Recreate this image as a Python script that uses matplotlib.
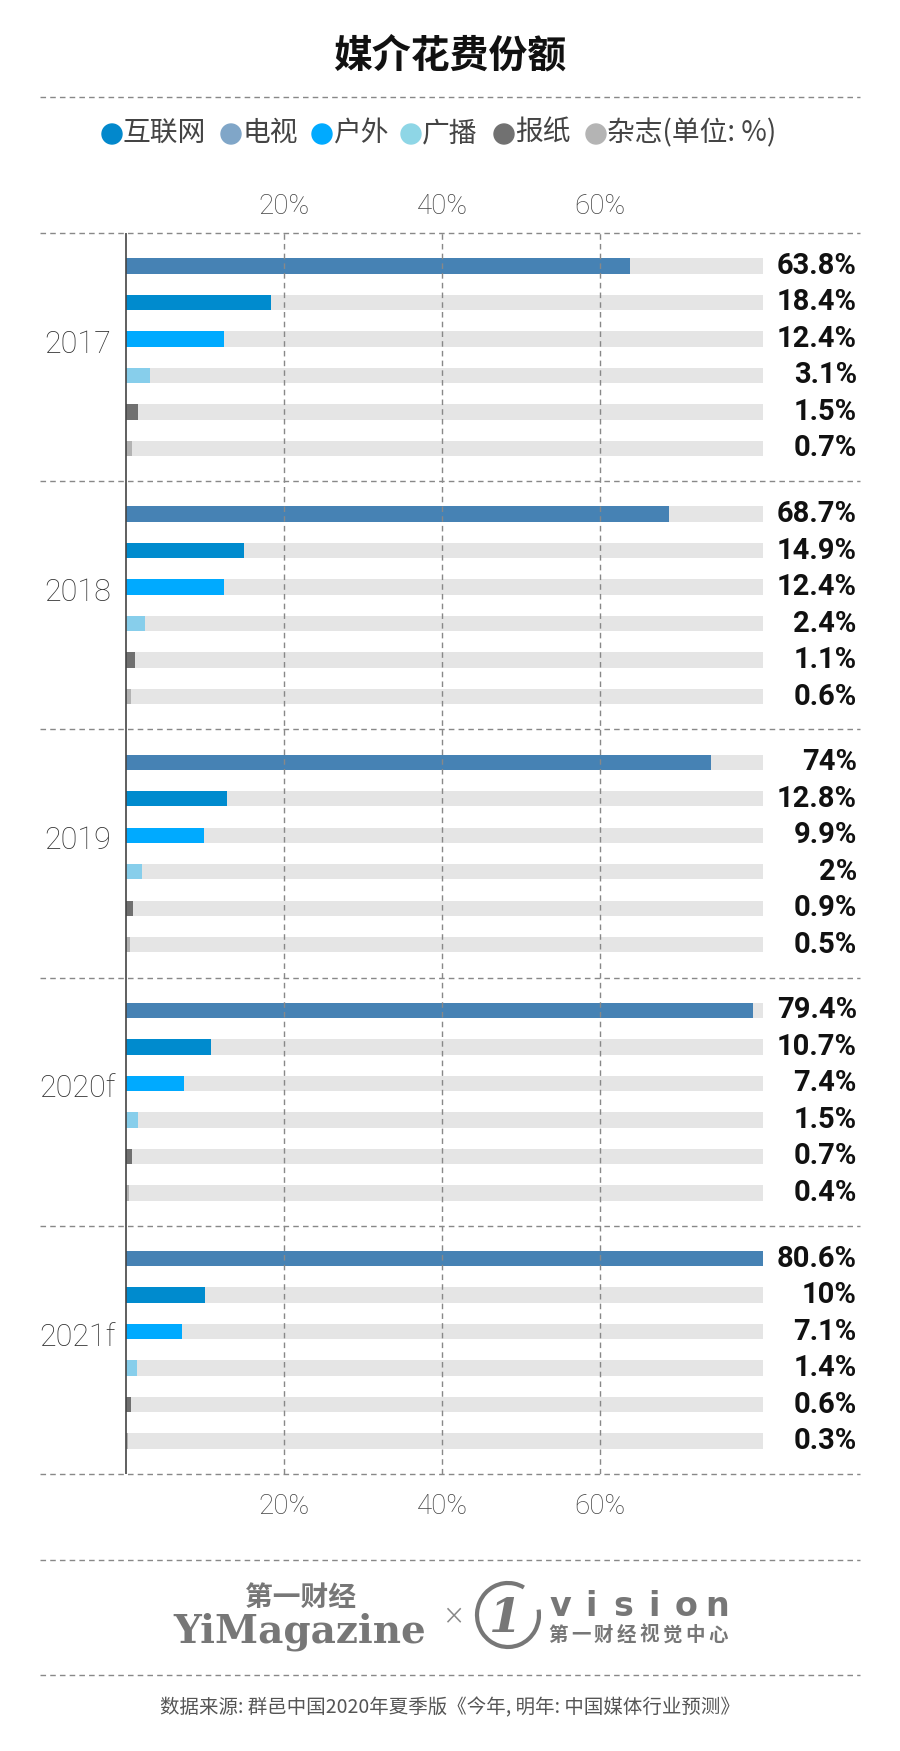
import numpy as np
import matplotlib
matplotlib.use('Agg')
import matplotlib.pyplot as plt
from matplotlib.patches import Circle, Arc

plt.rcParams['font.family'] = ['Noto Sans CJK SC', 'DejaVu Sans']

years = ['2017', '2018', '2019', '2020f', '2021f']
media = ['互联网', '电视', '户外', '广播', '报纸', '杂志(单位: %)']
internet = [63.8, 68.7, 74, 79.4, 80.6]
tv = [18.4, 14.9, 12.8, 10.7, 10]
outdoor = [12.4, 12.4, 9.9, 7.4, 7.1]
radio = [3.1, 2.4, 2, 1.5, 1.4]
newspaper = [1.5, 1.1, 0.9, 0.7, 0.6]
magazine = [0.7, 0.6, 0.5, 0.4, 0.3]
ticks = [20, 40, 60]

series = [internet, tv, outdoor, radio, newspaper, magazine]
bar_colors = ['#4682B4', '#008BCE', '#00AAFF', '#87CEEB', '#707070', '#B3B3B3']
legend_colors = ['#0288CC', '#80A6C8', '#00AAFF', '#8ED6E6', '#717171', '#B4B4B4']
narrow = ['Roboto', 'DejaVu Sans']
dash = (0, (4, 3))

W, H = 900, 1751
fig = plt.figure(figsize=(9, 17.51), dpi=100)

# overlay in pixel coords for title, legend, footer
deco = fig.add_axes([0, 0, 1, 1])
deco.set_xlim(0, W)
deco.set_ylim(H, 0)
deco.axis('off')

# main chart axes
x0_px, px_per = 126, 7.9
left_px, right_px = 40, 860
top_px, bot_px = 233, 1474
ax = fig.add_axes([left_px / W, 1 - bot_px / H, (right_px - left_px) / W, (bot_px - top_px) / H])
xmin, xmax = -(x0_px - left_px) / px_per, (right_px - x0_px) / px_per
ax.set_xlim(xmin, xmax)
gp, off = 6.8, 0.9
ax.set_ylim(gp * len(years), 0)

full = max(internet)
for g, yr in enumerate(years):
    ys = g * gp + off + np.arange(len(series))
    vals = [s[g] for s in series]
    ax.barh(ys, [full] * len(ys), height=0.42, color='#E5E5E5', zorder=1)
    ax.barh(ys, vals, height=0.42, color=bar_colors, zorder=2)
    for y, v in zip(ys, vals):
        ax.text(xmax - 0.4, y, f'{v:g}%', ha='right', va='center', fontsize=21,
                fontweight='bold', family=narrow, color='#111')
    ax.text(-6.1, g * gp + gp / 2 - 0.35, yr, ha='center', va='center',
            fontsize=22, fontweight='light', family=narrow, color='#333')

for g in range(len(years) + 1):
    ax.axhline(g * gp, color='#888', ls=dash, lw=1, clip_on=False, zorder=3)
ax.axvline(0, color='#444', lw=1.2, zorder=4)

ax.set_xticks(ticks)
ax.set_xticklabels([f'{t}%' for t in ticks], family=narrow, fontweight='light')
ax.grid(axis='x', color='#888', ls=dash, lw=1)
ax.set_axisbelow(False)
ax.tick_params(axis='x', length=0, labelsize=20, labelcolor='#444', pad=14)
ax.set_yticks([])
for s in ax.spines.values():
    s.set_visible(False)

sec = ax.secondary_xaxis('top')
sec.set_xticks(ticks)
sec.set_xticklabels([f'{t}%' for t in ticks], family=narrow, fontweight='light')
sec.tick_params(length=0, labelsize=20, labelcolor='#444', pad=9)
for s in sec.spines.values():
    s.set_visible(False)

# title and legend
deco.text(450, 56, '媒介花费份额', ha='center', va='center', fontsize=28,
          fontweight='bold', color='#111')
for y in [97, 1560, 1675]:
    deco.plot([left_px, right_px], [y, y], color='#888', ls=dash, lw=1)

leg_x = [112, 231, 322, 411, 504, 596]
for x, name, c in zip(leg_x, media, legend_colors):
    deco.add_patch(Circle((x, 134), 10, color=c))
    deco.text(x + 11, 133, name, ha='left', va='center', fontsize=20, color='#444')

# footer logos
deco.text(300, 1598, '第一财经', ha='center', va='center', fontsize=20,
          fontweight='bold', color='#777')
deco.text(300, 1632, 'YiMagazine', ha='center', va='center', fontsize=28,
          fontweight='bold', family='DejaVu Serif', color='#777')
deco.text(453, 1618, '×', ha='center', va='center', fontsize=16, color='#888')
deco.add_patch(Arc((508, 1615), 62, 64, theta1=-10, theta2=300, lw=3, color='#777'))
deco.text(505, 1619, '1', ha='center', va='center', fontsize=34, fontweight='bold',
          style='italic', family='DejaVu Serif', color='#777')
for x, ch in zip(np.linspace(560, 717, 6), 'vision'):
    deco.text(x, 1606, ch, ha='center', va='center', fontsize=24,
              fontweight='bold', family='DejaVu Sans', color='#777')
for x, ch in zip(np.linspace(558, 718, 8), '第一财经视觉中心'):
    deco.text(x, 1635, ch, ha='center', va='center', fontsize=14,
              fontweight='bold', color='#777')

deco.text(450, 1708, '数据来源: 群邑中国2020年夏季版《今年, 明年: 中国媒体行业预测》',
          ha='center', va='center', fontsize=14, color='#555')

fig.savefig('out.png', dpi=100)
